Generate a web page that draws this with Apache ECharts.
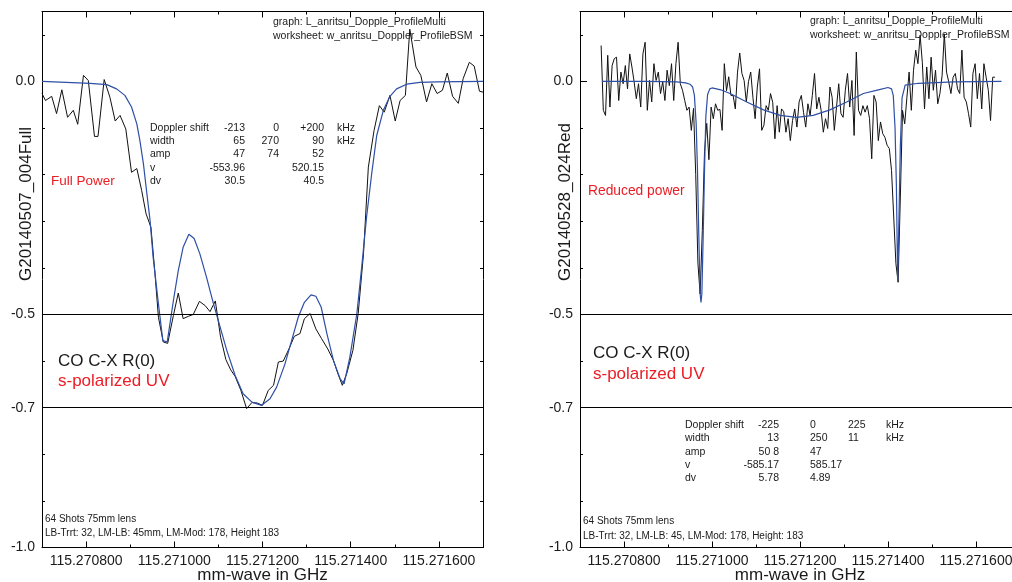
<!DOCTYPE html>
<html>
<head>
<meta charset="utf-8">
<script src="https://cdn.jsdelivr.net/npm/echarts@6/dist/echarts.min.js"></script>
<style>
  html, body { margin: 0; padding: 0; background: #fff; }
  #chart { width: 1012px; height: 582px; }
</style>
</head>
<body>
<div id="chart"></div>
<script>
// Frequencies are stored in kHz above 115.270700 GHz; the axis labels print absolute GHz.
const xMajorTicks = [100, 300, 500, 700, 900];
const xTickLabels = ['115.270800', '115.271000', '115.271200', '115.271400', '115.271600'];
const xMinorTicks = [0, 200, 400, 600, 800, 1000];
const yMajorTicks = [0, -0.5, -0.7, -1.0];
const yTickLabels = ['0.0', '-0.5', '-0.7', '-1.0'];
const yMinorTicks = [0.1, -0.1, -0.2, -0.3, -0.4, -0.6, -0.8, -0.9];
const refLevels = [-0.5, -0.7];

// G20140507_004Full : measured signal
const fullFreq = [
  0, 8, 22, 33, 45, 58, 71, 81, 94, 105,
  119, 127, 141, 154, 166, 177, 190, 203, 215, 226,
  236, 247, 256, 264, 275, 285, 298, 309, 320, 332,
  343, 357, 370, 381, 393, 405, 417, 428, 438, 451,
  464, 476, 488, 500, 513, 525, 536, 547, 560, 572,
  585, 595, 608, 621, 634, 648, 661, 671, 681, 691,
  705, 717, 729, 740, 753, 765, 776, 789, 801, 812,
  824, 834, 848, 859, 872, 884, 896, 908, 919, 931,
  944, 955, 969, 980, 992, 1000
];
const fullSignal = [
  -0.026, -0.041, -0.032, -0.069, -0.018, -0.077, -0.062, -0.092, 0.013, 0.002,
  -0.118, -0.118, 0.004, -0.034, -0.085, -0.073, -0.102, -0.195, -0.187, -0.234,
  -0.284, -0.313, -0.410, -0.506, -0.559, -0.562, -0.502, -0.454, -0.509, -0.504,
  -0.500, -0.472, -0.481, -0.494, -0.471, -0.549, -0.597, -0.619, -0.633, -0.663,
  -0.702, -0.689, -0.690, -0.695, -0.663, -0.652, -0.602, -0.600, -0.574, -0.547,
  -0.541, -0.509, -0.498, -0.531, -0.552, -0.574, -0.599, -0.627, -0.652, -0.627,
  -0.577, -0.498, -0.370, -0.184, -0.105, -0.052, -0.066, -0.030, -0.085, -0.041,
  -0.030, 0.112, 0.031, 0.013, -0.044, -0.005, -0.026, -0.019, 0.018, -0.032,
  -0.047, 0.006, 0.041, 0.033, -0.021, -0.023
];
// G20140507_004Full : three-component Doppler fit
const fullFitFreq = [
  0, 109, 147, 169, 188, 203, 215, 222, 230, 237,
  245, 252, 264, 274, 284, 298, 309, 320, 333, 345,
  358, 373, 388, 404, 419, 438, 456, 476, 498, 517,
  532, 551, 566, 581, 595, 610, 621, 633, 646, 661,
  676, 685, 698, 714, 725, 736, 748, 759, 774, 789,
  804, 827, 857, 895, 1000
];
const fullFit = [
  0.000, -0.004, -0.007, -0.016, -0.030, -0.055, -0.091, -0.127, -0.177, -0.234,
  -0.298, -0.377, -0.477, -0.556, -0.559, -0.470, -0.406, -0.356, -0.328, -0.337,
  -0.370, -0.420, -0.474, -0.527, -0.577, -0.631, -0.670, -0.688, -0.695, -0.681,
  -0.656, -0.606, -0.556, -0.506, -0.474, -0.458, -0.461, -0.484, -0.541, -0.599,
  -0.638, -0.649, -0.592, -0.498, -0.398, -0.291, -0.195, -0.116, -0.062, -0.032,
  -0.016, -0.006, -0.002, -0.001, 0.000
];

// G20140528_024Red : measured signal
const redFreq = [
  48, 53, 58, 63, 68, 73, 78, 83, 88, 93, 98, 103, 108, 113, 118, 123, 128, 133, 138, 143,
  148, 153, 158, 163, 168, 173, 178, 183, 188, 193, 198, 203, 208, 213, 218, 223, 228, 233, 238, 243,
  248, 253, 258, 263, 268, 273, 278, 283, 288, 293, 298, 303, 308, 313, 318, 323, 328, 333, 338, 343,
  348, 353, 358, 363, 368, 373, 378, 383, 388, 393, 398, 403, 408, 413, 418, 423, 428, 433, 438, 443,
  448, 453, 458, 463, 468, 473, 478, 483, 488, 493, 498, 503, 508, 513, 518, 523, 528, 533, 538, 543,
  548, 553, 558, 563, 568, 573, 578, 583, 588, 593, 598, 603, 608, 613, 618, 623, 628, 633, 638, 643,
  648, 653, 658, 663, 668, 673, 678, 683, 688, 693, 698, 703, 708, 713, 718, 723, 728, 733, 738, 743,
  748, 753, 758, 763, 768, 773, 778, 783, 788, 793, 798, 803, 808, 813, 818, 823, 828, 833, 838, 843,
  848, 853, 858, 863, 868, 873, 878, 883, 888, 893, 898, 903, 908, 913, 918, 923, 928, 933, 938, 943
];
const redSignal = [
  0.077, -0.062, -0.073, 0.056, -0.055, 0.034, 0.049, 0.052, -0.041, 0.020, -0.005, 0.034, -0.016, 0.059, 0.031, -0.001, -0.037, -0.005, -0.055, 0.059,
  0.084, -0.062, 0.002, -0.044, 0.038, 0.002, 0.020, -0.026, -0.001, -0.041, 0.024, -0.009, 0.038, -0.041, 0.038, 0.084, -0.005, -0.019, -0.041, -0.062,
  -0.055, -0.105, -0.058, -0.200, -0.390, -0.456, -0.320, -0.150, -0.090, -0.168, -0.055, -0.080, -0.048, -0.062, -0.060, -0.105, 0.038, -0.020, 0.010, -0.030,
  -0.030, -0.059, 0.020, 0.061, 0.017, 0.002, -0.044, 0.000, 0.020, -0.034, -0.080, -0.012, 0.027, -0.105, -0.094, -0.052, -0.062, -0.026, -0.045, -0.123,
  -0.052, -0.109, -0.059, -0.065, -0.109, -0.080, -0.127, -0.084, -0.059, -0.098, -0.044, -0.030, -0.066, -0.098, -0.048, -0.073, -0.030, 0.017, -0.059, -0.034,
  -0.062, -0.109, -0.080, -0.101, -0.012, -0.034, -0.105, -0.055, -0.005, -0.069, -0.077, -0.019, 0.017, -0.055, 0.002, -0.116, 0.063, -0.062, -0.073, -0.052,
  -0.066, -0.052, -0.080, -0.166, -0.030, -0.044, -0.127, -0.087, -0.112, -0.120, -0.137, -0.144, -0.191, -0.291, -0.391, -0.431, -0.250, -0.062, -0.091, -0.034,
  0.020, -0.062, 0.024, 0.067, 0.038, 0.099, 0.041, -0.059, 0.031, -0.037, 0.052, -0.019, 0.024, -0.048, -0.026, 0.013, 0.102, 0.020, -0.001, -0.026,
  0.009, 0.017, -0.016, -0.026, 0.067, -0.034, -0.044, -0.069, -0.098, 0.017, 0.038, -0.037, 0.017, -0.059, 0.038, 0.009, -0.019, -0.084, 0.009, 0.009
];
// G20140528_024Red : three-component Doppler fit
const redFitFreq = [
  50, 150, 220, 240, 250, 256, 260, 264, 267, 270,
  273, 275, 277, 280, 283, 286, 290, 295, 300, 320,
  341, 379, 417, 455, 492, 530, 568, 606, 644, 678,
  700, 708, 712, 716, 719, 722, 725, 728, 732, 739,
  769, 850, 958
];
const redFit = [
  0.000, 0.000, -0.001, -0.003, -0.006, -0.012, -0.030, -0.090, -0.190, -0.330,
  -0.455, -0.474, -0.455, -0.330, -0.190, -0.075, -0.028, -0.016, -0.014, -0.018,
  -0.026, -0.044, -0.061, -0.073, -0.077, -0.073, -0.061, -0.044, -0.026, -0.018,
  -0.013, -0.016, -0.030, -0.100, -0.220, -0.427, -0.290, -0.140, -0.035, -0.008,
  -0.004, -0.001, 0.000
];

// Fit parameter tables
const fullParams = [
  ['Doppler shift', '-213', '0', '+200', 'kHz'],
  ['width', '65', '270', '90', 'kHz'],
  ['amp', '47', '74', '52', ''],
  ['v', '-553.96', '', '520.15', ''],
  ['dv', '30.5', '', '40.5', '']
];
const redParams = [
  ['Doppler shift', '-225', '0', '225', 'kHz'],
  ['width', '13', '250', '11', 'kHz'],
  ['amp', '50 8', '47', '', ''],
  ['v', '-585.17', '585.17', '', ''],
  ['dv', '5.78', '4.89', '', '']
];

const FONT = '"Liberation Sans", Arial, Helvetica, sans-serif';
const RED = '#ec1c24';
const BLUE = '#2e4fa6';
const INK = '#1a1a1a';

const zip = (xs, ys) => xs.map((x, i) => [x, ys[i]]);
const pick = (ticks, labels, v) => {
  const i = ticks.findIndex(t => Math.abs(t - v) < 1e-9);
  return i < 0 ? '' : labels[i];
};

function xAxes(g) {
  const line = { color: '#000', width: 1 };
  const base = { gridIndex: g, type: 'value', min: 0, max: 1000, splitLine: { show: false } };
  return [
    Object.assign({}, base, {
      position: 'bottom',
      axisLine: { show: true, onZero: false, lineStyle: line },
      axisTick: { show: true, inside: true, length: 6, customValues: xMajorTicks, lineStyle: line },
      axisLabel: { show: true, customValues: xMajorTicks, margin: 7, fontSize: 14, color: INK, fontFamily: FONT,
                   formatter: v => pick(xMajorTicks, xTickLabels, v) }
    }),
    Object.assign({}, base, {
      position: 'bottom',
      axisLine: { show: false, onZero: false },
      axisTick: { show: true, inside: true, length: 3, customValues: xMinorTicks, lineStyle: line },
      axisLabel: { show: false }
    }),
    Object.assign({}, base, {
      position: 'top',
      axisLine: { show: true, onZero: false, lineStyle: line },
      axisTick: { show: true, inside: true, length: 6, customValues: xMajorTicks, lineStyle: line },
      axisLabel: { show: false }
    }),
    Object.assign({}, base, {
      position: 'top',
      axisLine: { show: false, onZero: false },
      axisTick: { show: true, inside: true, length: 3, customValues: xMinorTicks, lineStyle: line },
      axisLabel: { show: false }
    })
  ];
}

function yAxes(g) {
  const line = { color: '#000', width: 1 };
  const base = { gridIndex: g, type: 'value', min: -1.0, max: 0.15, splitLine: { show: false } };
  return [
    Object.assign({}, base, {
      position: 'left',
      axisLine: { show: true, onZero: false, lineStyle: line },
      axisTick: { show: true, inside: true, length: 7, customValues: yMajorTicks, lineStyle: line },
      axisLabel: { show: true, customValues: yMajorTicks, margin: 7, fontSize: 14, color: INK, fontFamily: FONT,
                   formatter: v => pick(yMajorTicks, yTickLabels, v) }
    }),
    Object.assign({}, base, {
      position: 'left',
      axisLine: { show: false, onZero: false },
      axisTick: { show: true, inside: true, length: 3, customValues: yMinorTicks, lineStyle: line },
      axisLabel: { show: false }
    }),
    Object.assign({}, base, {
      position: 'right',
      axisLine: { show: true, onZero: false, lineStyle: line },
      axisTick: { show: true, inside: true, length: 7, customValues: yMajorTicks, lineStyle: line },
      axisLabel: { show: false }
    }),
    Object.assign({}, base, {
      position: 'right',
      axisLine: { show: false, onZero: false },
      axisTick: { show: true, inside: true, length: 3, customValues: yMinorTicks, lineStyle: line },
      axisLabel: { show: false }
    })
  ];
}

function panelSeries(g, sigX, sigY, fitX, fitY) {
  return [
    {
      type: 'line', xAxisIndex: 4 * g, yAxisIndex: 4 * g,
      data: zip(sigX, sigY), symbol: 'none', clip: true,
      lineStyle: { color: '#111', width: 1 },
      markLine: {
        silent: true, symbol: 'none', label: { show: false },
        lineStyle: { color: '#000', width: 1, type: 'solid' },
        data: refLevels.map(v => ({ yAxis: v }))
      }
    },
    {
      type: 'line', xAxisIndex: 4 * g, yAxisIndex: 4 * g,
      data: zip(fitX, fitY), symbol: 'none', clip: true,
      lineStyle: { color: BLUE, width: 1.2 }
    }
  ];
}

function txt(x, y, text, size, opts) {
  opts = opts || {};
  return {
    type: 'text', x: x, y: y, rotation: opts.rotation || 0, silent: true,
    style: {
      text: text, fill: opts.color || INK, fontSize: size, fontFamily: FONT,
      align: opts.align || 'left', verticalAlign: 'middle'
    }
  };
}

function table(rows, layout) {
  const out = [];
  rows.forEach((r, i) => {
    const y = layout.rows[i];
    out.push(txt(layout.label, y, r[0], 10.5));
    for (let c = 1; c <= 3; c++) {
      if (r[c]) out.push(txt(layout.cols[c - 1][0], y, r[c], 10.5, { align: layout.cols[c - 1][1] }));
    }
    if (r[4]) out.push(txt(layout.unit, y, r[4], 10.5));
  });
  return out;
}

const graphics = [
  // left panel
  txt(273, 22, 'graph: L_anritsu_Dopple_ProfileMulti', 10.5),
  txt(273, 36, 'worksheet: w_anritsu_Doppler_ProfileBSM', 10.5),
  txt(51, 181.5, 'Full Power', 13.5, { color: RED }),
  txt(58, 361, 'CO C-X R(0)', 17),
  txt(58, 381, 's-polarized UV', 17, { color: RED }),
  txt(45, 519.5, '64 Shots 75mm lens', 10),
  txt(45, 533.5, 'LB-Trrt: 32, LM-LB: 45mm, LM-Mod: 178, Height 183', 10),
  txt(26, 204, 'G20140507_004Full', 17, { align: 'center', rotation: Math.PI / 2 }),
  txt(262.5, 575, 'mm-wave in GHz', 17, { align: 'center' }),
  // right panel
  txt(810, 21.5, 'graph: L_anritsu_Dopple_ProfileMulti', 10.5),
  txt(810, 35, 'worksheet: w_anritsu_Doppler_ProfileBSM', 10.5),
  txt(588, 191, 'Reduced power', 13.8, { color: RED }),
  txt(593, 353.5, 'CO C-X R(0)', 17),
  txt(593, 374, 's-polarized UV', 17, { color: RED }),
  txt(583, 521.5, '64 Shots 75mm lens', 10),
  txt(583, 536, 'LB-Trrt: 32, LM-LB: 45, LM-Mod: 178, Height: 183', 10),
  txt(565, 202, 'G20140528_024Red', 17, { align: 'center', rotation: Math.PI / 2 }),
  txt(800, 575, 'mm-wave in GHz', 17, { align: 'center' })
].concat(
  table(fullParams, { label: 150, rows: [128, 141, 154.5, 168, 181],
                      cols: [[245, 'right'], [279, 'right'], [324, 'right']], unit: 337 }),
  table(redParams, { label: 685, rows: [425, 438.5, 452, 465, 478.5],
                     cols: [[779, 'right'], [810, 'left'], [848, 'left']], unit: 886 })
);

const chart = echarts.init(document.getElementById('chart'), null, { renderer: 'canvas' });
chart.setOption({
  animation: false,
  backgroundColor: '#fff',
  grid: [
    { left: 42, top: 11.5, width: 441, height: 536, outerBoundsMode: 'none', containLabel: false },
    { left: 580, top: 11.5, width: 440, height: 536, outerBoundsMode: 'none', containLabel: false }
  ],
  xAxis: xAxes(0).concat(xAxes(1)),
  yAxis: yAxes(0).concat(yAxes(1)),
  series: panelSeries(0, fullFreq, fullSignal, fullFitFreq, fullFit)
    .concat(panelSeries(1, redFreq, redSignal, redFitFreq, redFit)),
  graphic: { elements: graphics }
});
</script>
</body>
</html>
